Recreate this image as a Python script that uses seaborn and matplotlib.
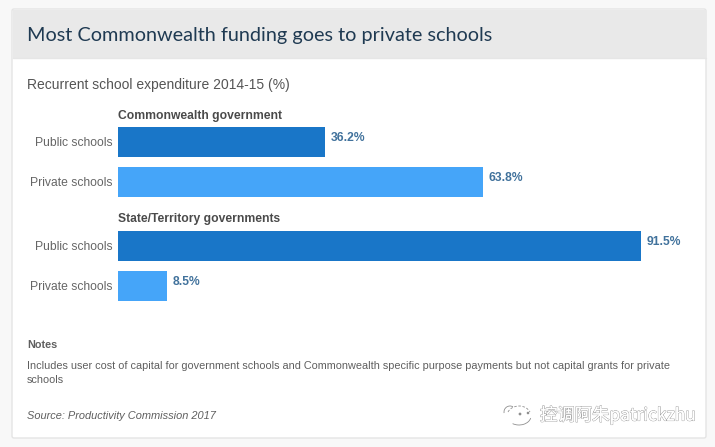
import matplotlib
matplotlib.use("Agg")
import matplotlib.pyplot as plt
import matplotlib.patheffects as pe
from matplotlib.patches import Rectangle, FancyBboxPatch, Arc, Circle
import pandas as pd
import seaborn as sns

W, H = 715, 447

categories = ["Public schools", "Private schools"]
commonwealth = [36.2, 63.8]
state_territory = [91.5, 8.5]
group_names = ["Commonwealth government", "State/Territory governments"]
bar_colors = ["#1976c8", "#45a5f9"]

TITLE = "Most Commonwealth funding goes to private schools"
SUBTITLE = "Recurrent school expenditure 2014-15 (%)"
NOTE = ("Includes user cost of capital for government schools and Commonwealth specific "
        "purpose payments but not capital grants for private\nschools")
SOURCE = "Source: Productivity Commission 2017"
MARK = "控调阿朱patrickzhu"

sns.set_theme(style="white")
plt.rcParams["font.family"] = ["Liberation Sans", "DejaVu Sans"]

fig = plt.figure(figsize=(W / 100, H / 100), dpi=100, facecolor="#f8f8f8")


def to_fig(x, y):
    """Pixel position (top-left origin) to figure fraction."""
    return x / W, 1 - y / H


# Card and its header band
bg = fig.add_axes([0, 0, 1, 1], zorder=0)
bg.set_xlim(0, W)
bg.set_ylim(H, 0)
bg.axis("off")
bg.add_patch(FancyBboxPatch((12, 9), 694, 429, boxstyle="round,pad=0,rounding_size=2",
                            fc="white", ec="#e4e4e4", lw=1.0))
bg.add_patch(Rectangle((12.5, 9.5), 693, 48.5, fc="#e9e9e9", ec="none"))
bg.plot([12.5, 705.5], [58, 58], color="#e6e6e6", lw=1)


def draw_group(top, values):
    """One titled pair of horizontal bars; plot area starts at pixel row top."""
    left, width, height = 118, 571.6, 80
    ax = fig.add_axes([left / W, 1 - (top + height) / H, width / W, height / H], zorder=2)
    ax.patch.set_alpha(0)
    data = pd.DataFrame({"school": categories, "share": values})
    sns.barplot(data=data, y="school", x="share", hue="school", palette=bar_colors,
                order=categories, width=0.75, legend=False, saturation=1, linewidth=0, ax=ax)
    ax.set_xlim(0, 100)
    ax.set_ylim(1.5, -0.5)
    ax.set_xlabel("")
    ax.set_ylabel("")
    ax.xaxis.set_visible(False)
    sns.despine(ax=ax, left=True, bottom=True)
    ax.tick_params(axis="y", length=0, pad=4, labelsize=8.7, labelcolor="#666666")
    for i, v in enumerate(values):
        ax.annotate(f"{v}%", (v, i), xytext=(4.2, 3), textcoords="offset points",
                    va="center", ha="left", fontsize=8.7, fontweight="bold", color="#41729c")


draw_group(122, commonwealth)
draw_group(226, state_territory)

# Card text
fig.text(*to_fig(27, 35), TITLE, fontsize=14.3, family="Lato", color="#1f3a52", va="center")
fig.text(*to_fig(27, 84.5), SUBTITLE, fontsize=10, color="#555555", va="center")
fig.text(*to_fig(118, 115.5), group_names[0], fontsize=8.7, fontweight="bold", color="#4a4a4a", va="center")
fig.text(*to_fig(118, 219), group_names[1], fontsize=8.7, fontweight="bold", color="#4a4a4a", va="center")
fig.text(*to_fig(27, 344.5), "Notes", fontsize=7.8, fontweight="bold", color="#5f5f5f", va="center")
fig.text(*to_fig(27, 373), NOTE, fontsize=7.83, color="#5f5f5f", va="center", linespacing=1.5)
fig.text(*to_fig(27, 416), SOURCE, fontsize=7.9, style="italic", color="#5f5f5f", va="center")

# Watermark: outlined lettering and a small line-drawn chat icon
fig.text(*to_fig(540, 415), MARK, fontsize=12.5, family=["Noto Sans CJK SC", "DejaVu Sans"],
         color="white", va="center",
         path_effects=[pe.withStroke(linewidth=0.8, foreground="#9a9a9a"), pe.Normal()])
icon = dict(color="#8f8f8f", lw=0.6, fill=False)
bg.add_patch(Arc((519, 416), 24, 18, theta1=10, theta2=130, **icon))
bg.add_patch(Arc((519, 416), 24, 20, theta1=200, theta2=340, linestyle=(0, (3, 2)), **icon))
bg.add_patch(Arc((510, 412), 12, 12, theta1=170, theta2=300, **icon))
bg.add_patch(Circle((520, 414), 0.7, color="#8f8f8f"))
bg.add_patch(Circle((528, 413), 0.6, color="#8f8f8f"))

fig.savefig("out.png", dpi=100, facecolor=fig.get_facecolor())
